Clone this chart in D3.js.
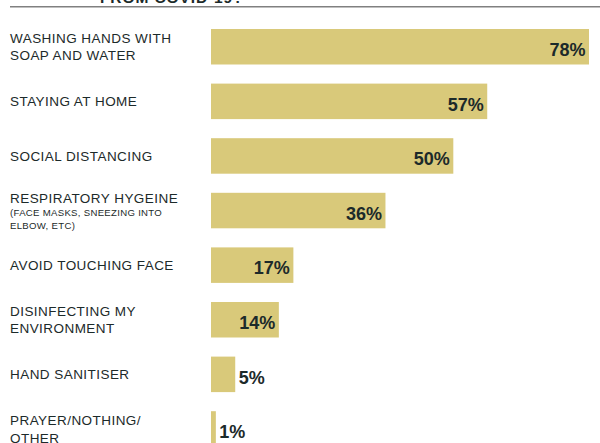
<!DOCTYPE html>
<html>
<head>
<meta charset="utf-8">
<script src="https://cdn.jsdelivr.net/npm/d3@7"></script>
<style>
  html, body { margin: 0; padding: 0; background: #ffffff; }
  svg { display: block; }
  text { font-family: "Liberation Sans", Arial, Helvetica, sans-serif; }
</style>
</head>
<body>
<svg id="chart" width="600" height="443"></svg>
<script>
// Survey: measures taken to protect against COVID-19 (% of respondents)
const measures = [
  ["WASHING HANDS WITH", "SOAP AND WATER"],
  ["STAYING AT HOME"],
  ["SOCIAL DISTANCING"],
  ["RESPIRATORY HYGEINE"],
  ["AVOID TOUCHING FACE"],
  ["DISINFECTING MY", "ENVIRONMENT"],
  ["HAND SANITISER"],
  ["PRAYER/NOTHING/", "OTHER"]
];
// small-print notes shown under a category name
const notes = [[], [], [], ["(FACE MASKS, SNEEZING INTO", "ELBOW, ETC)"], [], [], [], []];
const shares = [78, 57, 50, 36, 17, 14, 5, 1];
const titleText = "FROM COVID-19?";

const ink = "#1c2a2a";
const barColor = "#d9c97a";

const svg = d3.select("#chart");

// heading (runs above the visible area) and its rule
svg.append("text")
  .attr("x", 100).attr("y", 2.5)
  .attr("font-size", 15.5).attr("font-weight", "bold")
  .attr("letter-spacing", 0.9)
  .attr("fill", ink)
  .text(titleText);
svg.append("line")
  .attr("x1", 10).attr("x2", 600)
  .attr("y1", 6.8).attr("y2", 6.8)
  .attr("stroke", "#808080").attr("stroke-width", 1.6);

const ids = d3.range(shares.length);
const bandH = 35.5, step = 54.6;
const y = d3.scaleBand()
  .domain(ids)
  .range([29, 29 + step * (ids.length - (1 - bandH / step))])
  .paddingInner(1 - bandH / step)
  .paddingOuter(0);

const x = d3.scaleLinear().domain([0, 78]).range([211, 589]);

const rows = svg.append("g").selectAll("g")
  .data(ids).join("g");

rows.append("rect")
  .attr("x", x(0))
  .attr("y", i => y(i))
  .attr("width", i => x(shares[i]) - x(0))
  .attr("height", y.bandwidth())
  .attr("fill", barColor);

// value labels: inside the bar when it is wide enough, otherwise just after it
rows.append("text")
  .attr("font-size", 18).attr("font-weight", "bold")
  .attr("fill", ink)
  .attr("y", i => y(i) + 27)
  .attr("x", i => shares[i] >= 10 ? x(shares[i]) - 3.5 : x(shares[i]) + 3.5)
  .attr("text-anchor", i => shares[i] >= 10 ? "end" : "start")
  .text(i => shares[i] + "%");

// category names, centred on each bar
rows.each(function (i) {
  const g = d3.select(this);
  const mid = y(i) + y.bandwidth() / 2;
  const main = measures[i], sub = notes[i];
  if (sub.length) {
    const top = y(i);
    g.append("text")
      .attr("x", 10).attr("y", top + 10)
      .attr("font-size", 13.5).attr("letter-spacing", 0.45)
      .attr("fill", ink).text(main[0]);
    sub.forEach((s, k) => {
      g.append("text")
        .attr("x", 10).attr("y", top + 23.3 + k * 12.4)
        .attr("font-size", 9.6).attr("letter-spacing", 0.3)
        .attr("fill", ink).text(s);
    });
  } else {
    const lh = 17.6;
    const capH = 9.6;
    const firstBase = mid + capH / 2 - (main.length - 1) * lh / 2;
    main.forEach((s, k) => {
      g.append("text")
        .attr("x", 10).attr("y", firstBase + k * lh)
        .attr("font-size", 13.5).attr("letter-spacing", 0.45)
        .attr("fill", ink).text(s);
    });
  }
});
</script>
</body>
</html>
